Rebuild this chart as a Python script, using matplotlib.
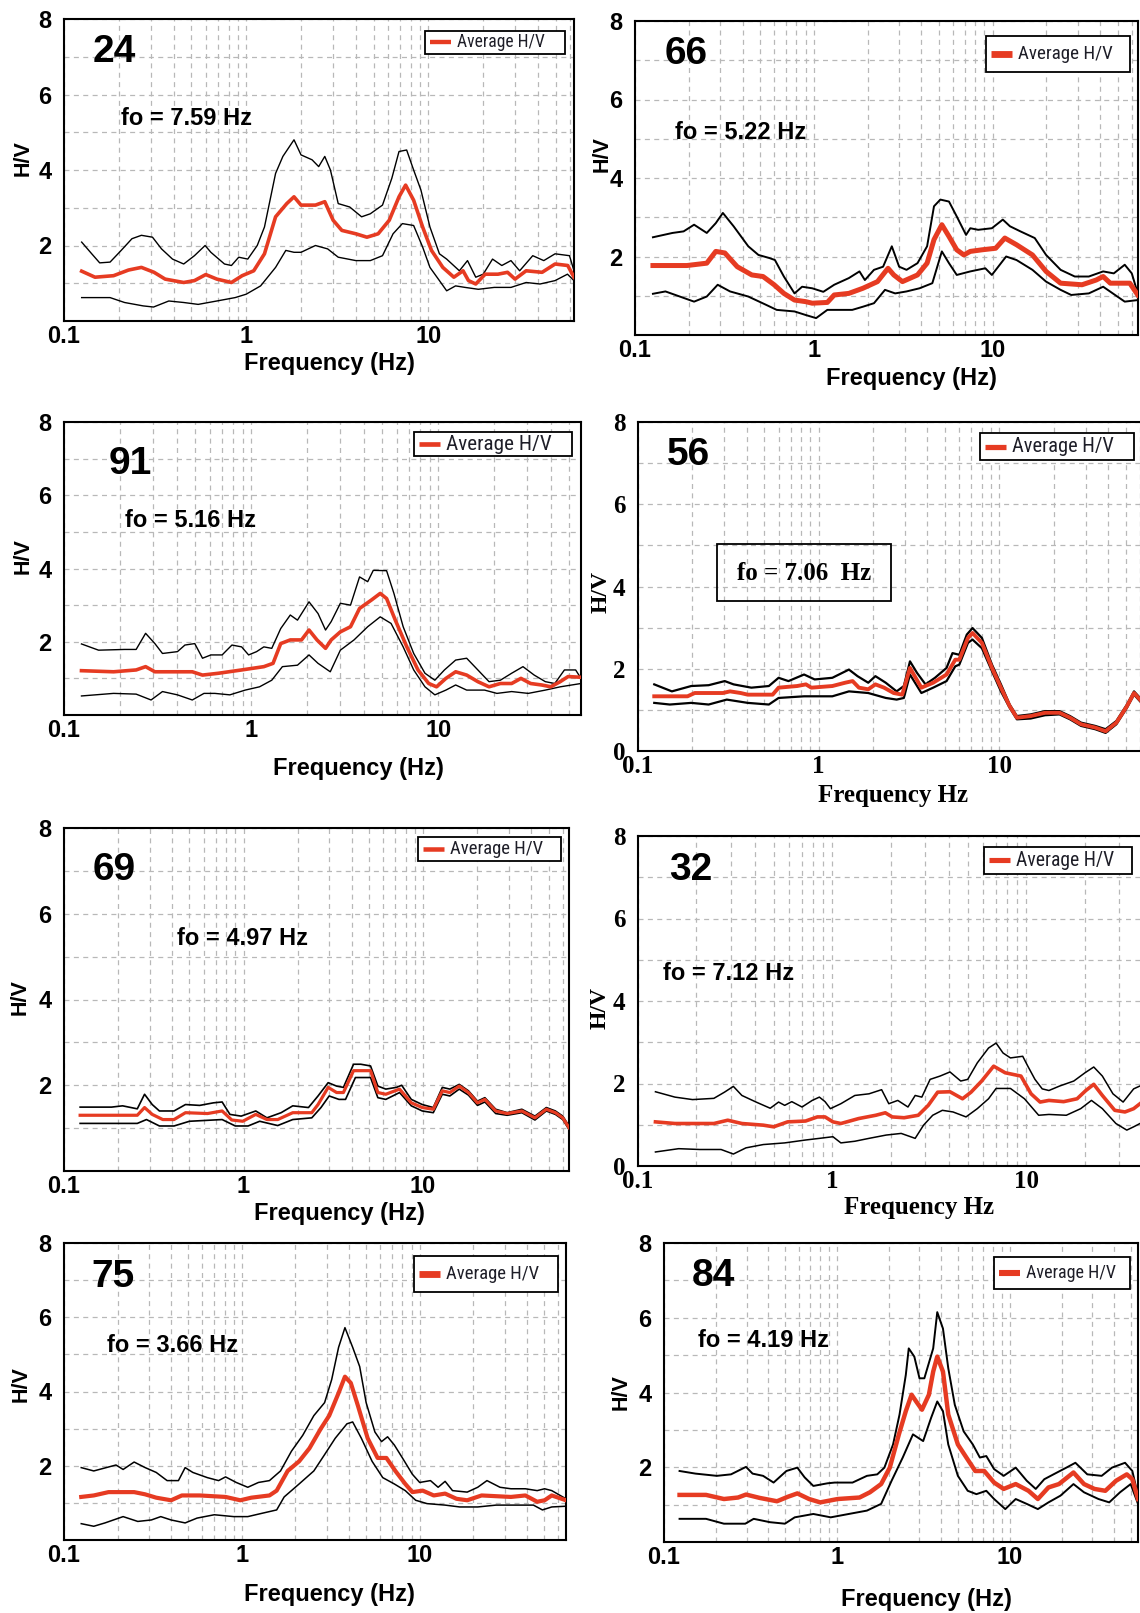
#!/usr/bin/env python3
# -*- coding: utf-8 -*-
"""
H/V spectral ratio curves for eight stations (mean +/- std)
"""

import numpy as np
import matplotlib
matplotlib.use('Agg')
from matplotlib import pyplot as plt
from matplotlib.lines import Line2D
from matplotlib.patches import Rectangle
from matplotlib.ticker import LogLocator, NullFormatter

#%% Data : (frequency in Hz, H/V) for upper, average and lower curves
P24_UP = [(0.125, 2.09), (0.142, 1.78), (0.157, 1.54), (0.179, 1.56), (0.206, 1.87), (0.236, 2.18),
          (0.266, 2.27), (0.306, 2.22), (0.343, 1.91), (0.394, 1.64), (0.454, 1.51), (0.52, 1.73),
          (0.595, 2.0), (0.64, 1.82), (0.76, 1.51), (0.83, 1.47), (0.91, 1.69), (1.02, 1.64),
          (1.15, 2.0), (1.26, 2.49), (1.45, 3.91), (1.59, 4.36), (1.83, 4.8), (2.0, 4.4),
          (2.3, 4.27), (2.5, 4.09), (2.7, 4.36), (2.9, 4.0), (3.2, 3.11), (3.7, 3.02),
          (4.3, 2.76), (4.8, 2.84), (5.6, 3.07), (6.3, 3.78), (6.9, 4.49), (7.6, 4.53),
          (8.3, 4.0), (9.1, 3.47), (10.2, 2.49), (11.5, 1.78), (12.6, 1.64), (14.8, 1.33),
          (16.4, 1.6), (18.2, 1.16), (20, 1.24), (22.5, 1.64), (25.3, 1.47), (28.4, 1.6),
          (31.7, 1.33), (37.4, 1.73), (43, 1.6), (49.6, 1.78), (59.5, 1.73), (63, 1.33)]
P24_AV = [(0.125, 1.32), (0.148, 1.16), (0.187, 1.2), (0.226, 1.35), (0.266, 1.42), (0.312, 1.29),
          (0.359, 1.11), (0.454, 1.02), (0.52, 1.07), (0.6, 1.23), (0.69, 1.11), (0.83, 1.02),
          (0.95, 1.2), (1.1, 1.33), (1.26, 1.78), (1.45, 2.76), (1.67, 3.11), (1.83, 3.29),
          (2.0, 3.07), (2.4, 3.07), (2.7, 3.16), (3.0, 2.67), (3.35, 2.4), (4.0, 2.31),
          (4.6, 2.22), (5.3, 2.31), (6.1, 2.67), (6.9, 3.29), (7.5, 3.6), (8.3, 3.2),
          (9.3, 2.49), (10.4, 1.87), (12.0, 1.42), (13.8, 1.16), (15.5, 1.33), (16.6, 1.07),
          (18.2, 0.98), (20.5, 1.24), (24.1, 1.24), (27.2, 1.29), (29.9, 1.11), (34.4, 1.33),
          (42.1, 1.29), (49.6, 1.51), (58.2, 1.47), (63, 1.16)]
P24_LO = [(0.125, 0.62), (0.179, 0.62), (0.215, 0.49), (0.272, 0.4), (0.31, 0.37), (0.376, 0.53),
          (0.454, 0.49), (0.545, 0.44), (0.69, 0.53), (0.87, 0.62), (1.0, 0.71), (1.2, 0.93),
          (1.45, 1.42), (1.65, 1.87), (1.83, 1.82), (2.0, 1.82), (2.4, 2.0), (2.8, 1.91),
          (3.2, 1.69), (4.0, 1.6), (4.8, 1.6), (5.6, 1.73), (6.4, 2.31), (7.2, 2.58),
          (8.3, 2.53), (9.3, 1.96), (10.2, 1.42), (11.5, 1.07), (12.6, 0.8), (14.1, 0.93),
          (15.9, 0.89), (18.8, 0.84), (23.0, 0.89), (28.4, 0.89), (34.4, 1.02), (41, 0.98),
          (49.6, 1.07), (58, 1.24), (63, 1.07)]

P66_UP = [(0.126, 2.49), (0.162, 2.6), (0.187, 2.64), (0.214, 2.81), (0.252, 2.6), (0.283, 2.85),
          (0.31, 3.11), (0.356, 2.77), (0.43, 2.26), (0.49, 2.04), (0.565, 1.96), (0.606, 1.91),
          (0.68, 1.49), (0.78, 1.06), (0.86, 1.23), (0.98, 1.19), (1.13, 1.1), (1.3, 1.28),
          (1.57, 1.45), (1.8, 1.62), (1.93, 1.4), (2.17, 1.66), (2.44, 1.74), (2.73, 2.26),
          (3.0, 1.74), (3.3, 1.66), (3.8, 1.83), (4.3, 2.26), (4.7, 3.28), (5.1, 3.45),
          (5.7, 3.4), (6.3, 3.02), (7.1, 2.55), (7.5, 2.72), (8.3, 2.68), (9.9, 2.72),
          (11.4, 2.94), (12.5, 2.77), (14.3, 2.64), (17.2, 2.47), (19.9, 2.04), (24.0, 1.66),
          (28.8, 1.49), (34.5, 1.49), (41.5, 1.62), (47.6, 1.57), (54.8, 1.79), (60, 1.57),
          (64.8, 1.06)]
P66_AV = [(0.126, 1.77), (0.195, 1.77), (0.252, 1.83), (0.283, 2.13), (0.318, 2.09), (0.373, 1.74),
          (0.45, 1.53), (0.52, 1.49), (0.6, 1.28), (0.68, 1.06), (0.78, 0.89), (0.9, 0.85),
          (0.98, 0.81), (1.19, 0.83), (1.3, 1.02), (1.57, 1.06), (1.88, 1.19), (2.27, 1.36),
          (2.6, 1.7), (2.8, 1.53), (3.13, 1.36), (3.8, 1.53), (4.3, 1.83), (4.7, 2.43),
          (5.2, 2.81), (5.7, 2.51), (6.3, 2.17), (6.9, 2.04), (7.5, 2.13), (8.7, 2.17),
          (10.4, 2.21), (11.7, 2.47), (13.6, 2.3), (16.7, 2.04), (19.9, 1.62), (24.0, 1.32),
          (31.6, 1.28), (37.9, 1.4), (41.5, 1.49), (45.5, 1.32), (58.5, 1.32), (64.8, 1.02)]
P66_LO = [(0.126, 1.05), (0.148, 1.11), (0.178, 0.98), (0.214, 0.85), (0.252, 0.98), (0.29, 1.28),
          (0.34, 1.11), (0.43, 0.98), (0.54, 0.77), (0.62, 0.64), (0.78, 0.6), (0.9, 0.51),
          (1.03, 0.43), (1.19, 0.64), (1.36, 0.64), (1.64, 0.64), (1.88, 0.72), (2.17, 0.81),
          (2.5, 1.15), (2.85, 1.06), (3.3, 1.11), (3.9, 1.19), (4.6, 1.32), (5.2, 2.13),
          (5.7, 1.83), (6.3, 1.53), (7.5, 1.62), (9.1, 1.7), (9.9, 1.53), (11.9, 2.0),
          (13.6, 1.91), (16.7, 1.66), (19.9, 1.36), (24.0, 1.15), (27.5, 1.02), (34.5, 1.06),
          (41.5, 1.23), (49.8, 0.98), (54.8, 0.85), (64.8, 0.89)]

P91_UP = [(0.124, 1.94), (0.153, 1.77), (0.211, 1.79), (0.243, 1.79), (0.273, 2.23), (0.306, 1.95),
          (0.336, 1.68), (0.404, 1.73), (0.443, 1.91), (0.5, 1.95), (0.55, 1.55), (0.61, 1.64),
          (0.7, 1.64), (0.79, 1.91), (0.89, 1.86), (0.97, 1.64), (1.07, 1.73), (1.17, 1.86),
          (1.29, 1.82), (1.44, 2.36), (1.62, 2.73), (1.77, 2.59), (2.04, 3.09), (2.28, 2.77),
          (2.5, 2.32), (2.68, 2.55), (3.0, 3.05), (3.4, 3.0), (3.8, 3.77), (4.2, 3.64),
          (4.5, 3.95), (5.3, 3.94), (5.8, 3.32), (6.5, 2.41), (7.4, 1.68), (8.5, 1.14),
          (9.6, 0.95), (10.8, 1.23), (12.4, 1.5), (14.2, 1.55), (16.3, 1.23), (18.7, 0.91),
          (21.5, 0.95), (24.7, 1.14), (28.4, 1.32), (32.6, 1.09), (37.4, 0.91), (42, 0.86),
          (47.3, 1.23), (54.3, 1.23), (58, 1.0)]
P91_AV = [(0.124, 1.21), (0.184, 1.18), (0.243, 1.23), (0.273, 1.32), (0.306, 1.18), (0.404, 1.18),
          (0.485, 1.18), (0.55, 1.09), (0.67, 1.14), (0.89, 1.23), (1.17, 1.32), (1.31, 1.41),
          (1.44, 1.95), (1.62, 2.05), (1.86, 2.05), (2.04, 2.32), (2.25, 2.05), (2.5, 1.82),
          (2.68, 2.05), (3.0, 2.27), (3.4, 2.41), (3.8, 2.91), (4.4, 3.14), (4.9, 3.32),
          (5.3, 3.18), (5.9, 2.59), (6.8, 1.86), (7.8, 1.23), (8.9, 0.86), (9.8, 0.77),
          (11.0, 1.0), (12.4, 1.18), (14.2, 1.09), (16.3, 0.91), (18.7, 0.77), (21.5, 0.86),
          (24.7, 0.86), (27.7, 1.0), (31.2, 0.86), (35.7, 0.82), (40, 0.77), (44.9, 0.91),
          (49.5, 1.05), (58, 1.03)]
P91_LO = [(0.124, 0.52), (0.184, 0.59), (0.243, 0.57), (0.292, 0.41), (0.336, 0.64), (0.404, 0.55),
          (0.485, 0.41), (0.56, 0.59), (0.64, 0.59), (0.77, 0.55), (0.93, 0.68), (1.11, 0.77),
          (1.29, 0.95), (1.47, 1.32), (1.77, 1.36), (2.04, 1.64), (2.28, 1.41), (2.65, 1.18),
          (3.0, 1.77), (3.55, 2.05), (4.2, 2.41), (4.9, 2.68), (5.6, 2.5), (6.5, 1.86),
          (7.4, 1.23), (8.5, 0.77), (9.6, 0.55), (11.0, 0.68), (12.4, 0.82), (14.2, 0.68),
          (17.7, 0.68), (20.6, 0.59), (24.7, 0.64), (30.3, 0.59), (37.4, 0.68), (45, 0.77),
          (58, 0.86)]

P56_UP = [(0.123, 1.62), (0.154, 1.45), (0.197, 1.58), (0.246, 1.6), (0.302, 1.7), (0.338, 1.62),
          (0.424, 1.54), (0.53, 1.58), (0.6, 1.78), (0.68, 1.7), (0.83, 1.86), (0.95, 1.74),
          (1.19, 1.78), (1.47, 1.98), (1.64, 1.82), (1.88, 1.66), (2.06, 1.82), (2.35, 1.66),
          (2.7, 1.45), (2.96, 1.58), (3.2, 2.18), (3.5, 1.9), (3.9, 1.62), (4.4, 1.78),
          (5.1, 2.02), (5.5, 2.38), (6.0, 2.34), (6.6, 2.83), (7.1, 2.99), (8.0, 2.75),
          (9.1, 2.1), (10.2, 1.62), (11.4, 1.13), (12.5, 0.85), (14.9, 0.89), (17.9, 0.97),
          (21.5, 0.97), (24.6, 0.85), (28.3, 0.69), (33.9, 0.61), (38.7, 0.53), (44.4, 0.73),
          (50.8, 1.13), (55.6, 1.45), (60, 1.29)]
P56_AV = [(0.123, 1.33), (0.188, 1.33), (0.206, 1.41), (0.295, 1.41), (0.323, 1.45), (0.37, 1.41),
          (0.405, 1.37), (0.556, 1.37), (0.6, 1.54), (0.76, 1.58), (0.85, 1.62), (0.91, 1.54),
          (1.19, 1.58), (1.4, 1.66), (1.54, 1.7), (1.67, 1.54), (1.88, 1.5), (2.06, 1.62),
          (2.3, 1.54), (2.6, 1.41), (2.9, 1.37), (3.2, 2.02), (3.7, 1.54), (4.3, 1.66),
          (5.1, 1.86), (5.7, 2.22), (6.0, 2.22), (6.7, 2.75), (7.1, 2.87), (8.0, 2.63),
          (9.1, 2.02), (10.2, 1.54), (11.4, 1.09), (12.5, 0.81), (14.9, 0.85), (17.9, 0.93),
          (21.5, 0.93), (24.6, 0.81), (28.3, 0.65), (33.9, 0.57), (38.7, 0.48), (44.4, 0.69),
          (50.8, 1.09), (55.6, 1.41), (60, 1.25)]
P56_LO = [(0.123, 1.17), (0.15, 1.13), (0.197, 1.17), (0.246, 1.13), (0.31, 1.25), (0.405, 1.17),
          (0.53, 1.13), (0.6, 1.29), (0.83, 1.33), (1.19, 1.33), (1.47, 1.45), (1.88, 1.41),
          (2.35, 1.29), (2.7, 1.25), (2.96, 1.29), (3.2, 1.86), (3.7, 1.41), (4.3, 1.54),
          (5.1, 1.7), (5.7, 2.06), (6.0, 2.1), (6.7, 2.63), (7.1, 2.71), (8.0, 2.5),
          (9.1, 1.94), (10.2, 1.45), (11.4, 1.05), (12.5, 0.77), (14.9, 0.79), (17.9, 0.87),
          (21.5, 0.89), (24.6, 0.77), (28.3, 0.61), (33.9, 0.53), (38.7, 0.44), (44.4, 0.65),
          (50.8, 1.05), (55.6, 1.37), (60, 1.21)]

P69_UP = [(0.123, 1.49), (0.184, 1.49), (0.212, 1.52), (0.256, 1.45), (0.281, 1.79), (0.31, 1.55),
          (0.34, 1.4), (0.41, 1.4), (0.475, 1.55), (0.57, 1.53), (0.68, 1.59), (0.76, 1.61),
          (0.84, 1.32), (0.97, 1.28), (1.17, 1.4), (1.35, 1.24), (1.62, 1.36), (1.88, 1.52),
          (2.3, 1.48), (2.6, 1.75), (2.96, 2.06), (3.3, 1.98), (3.6, 1.95), (4.1, 2.49),
          (4.5, 2.49), (5.1, 2.45), (5.6, 1.98), (6.2, 1.91), (7.1, 1.95), (7.6, 2.0),
          (8.6, 1.67), (9.9, 1.55), (11.4, 1.48), (12.8, 1.95), (14.1, 1.91), (15.9, 2.02),
          (17.9, 1.87), (20.1, 1.63), (22.1, 1.71), (25.4, 1.44), (29.4, 1.36), (35.5, 1.44),
          (42, 1.28), (48.6, 1.48), (54.6, 1.4), (60, 1.28), (65, 1.05)]
P69_AV = [(0.123, 1.3), (0.256, 1.3), (0.281, 1.48), (0.31, 1.32), (0.355, 1.2), (0.41, 1.2),
          (0.475, 1.36), (0.63, 1.34), (0.76, 1.4), (0.86, 1.19), (0.99, 1.16), (1.17, 1.32),
          (1.35, 1.2), (1.55, 1.2), (1.88, 1.36), (2.4, 1.36), (2.6, 1.55), (2.96, 1.95),
          (3.3, 1.83), (3.6, 1.83), (4.1, 2.34), (5.1, 2.34), (5.6, 1.83), (6.2, 1.79),
          (7.4, 1.91), (8.6, 1.59), (9.9, 1.48), (11.4, 1.44), (12.8, 1.87), (14.1, 1.83),
          (15.9, 1.98), (17.9, 1.83), (20.1, 1.59), (22.1, 1.67), (25.4, 1.4), (29.4, 1.34),
          (35.5, 1.4), (42, 1.24), (48.6, 1.44), (54.6, 1.36), (60, 1.24), (65, 1.01)]
P69_LO = [(0.123, 1.11), (0.256, 1.11), (0.288, 1.2), (0.34, 1.05), (0.41, 1.05), (0.5, 1.16),
          (0.76, 1.2), (0.9, 1.05), (1.06, 1.05), (1.23, 1.16), (1.55, 1.06), (1.88, 1.2),
          (2.4, 1.24), (2.7, 1.48), (3.0, 1.75), (3.4, 1.67), (3.7, 1.67), (4.2, 2.18),
          (5.1, 2.18), (5.6, 1.71), (6.2, 1.67), (7.4, 1.83), (8.6, 1.52), (9.9, 1.4),
          (11.4, 1.36), (12.8, 1.79), (14.1, 1.75), (15.9, 1.91), (17.9, 1.77), (20.1, 1.53),
          (22.1, 1.61), (25.4, 1.34), (29.4, 1.3), (35.5, 1.36), (42, 1.19), (48.6, 1.4),
          (54.6, 1.32), (60, 1.2), (65, 0.97)]

P32_UP = [(0.123, 1.8), (0.155, 1.67), (0.191, 1.61), (0.246, 1.64), (0.279, 1.79), (0.31, 1.93),
          (0.343, 1.71), (0.406, 1.55), (0.48, 1.4), (0.53, 1.55), (0.57, 1.47), (0.62, 1.56),
          (0.7, 1.43), (0.79, 1.59), (0.86, 1.67), (0.92, 1.56), (0.98, 1.39), (1.11, 1.51),
          (1.31, 1.71), (1.55, 1.75), (1.8, 1.85), (1.96, 1.51), (2.18, 1.59), (2.46, 1.43),
          (2.68, 1.71), (2.9, 1.67), (3.2, 2.1), (3.6, 2.18), (4.05, 2.28), (4.6, 2.06),
          (5.0, 2.1), (5.6, 2.5), (6.4, 2.86), (7.0, 2.98), (7.6, 2.74), (8.3, 2.62),
          (9.6, 2.66), (10.2, 2.42), (11.1, 2.1), (12.1, 1.87), (13.1, 1.83), (14.9, 1.94),
          (17.6, 2.06), (20.1, 2.26), (22.3, 2.4), (24.7, 2.18), (28, 1.75), (31.6, 1.55),
          (35.8, 1.87), (38.6, 1.94)]
P32_AV = [(0.123, 1.07), (0.155, 1.03), (0.246, 1.03), (0.29, 1.11), (0.343, 1.03), (0.442, 0.99),
          (0.5, 0.95), (0.59, 1.07), (0.73, 1.09), (0.84, 1.19), (0.92, 1.19), (1.01, 1.07),
          (1.11, 1.03), (1.37, 1.15), (1.68, 1.23), (1.88, 1.29), (2.04, 1.19), (2.35, 1.17),
          (2.78, 1.23), (3.13, 1.47), (3.5, 1.79), (4.05, 1.8), (4.7, 1.63), (5.2, 1.79),
          (5.9, 2.06), (6.8, 2.42), (7.8, 2.26), (9.4, 2.18), (10.6, 1.75), (11.8, 1.55),
          (13.1, 1.59), (15.6, 1.56), (18.3, 1.63), (20.3, 1.83), (22.3, 1.98), (24.7, 1.71),
          (28.6, 1.35), (32.3, 1.31), (35.8, 1.39), (38.6, 1.51)]
P32_LO = [(0.123, 0.34), (0.162, 0.42), (0.208, 0.4), (0.268, 0.4), (0.31, 0.29), (0.36, 0.44),
          (0.442, 0.52), (0.57, 0.56), (0.73, 0.63), (0.86, 0.67), (1.01, 0.71), (1.11, 0.56),
          (1.31, 0.6), (1.55, 0.67), (1.9, 0.75), (2.27, 0.79), (2.68, 0.67), (2.96, 0.99),
          (3.3, 1.23), (3.7, 1.35), (4.2, 1.31), (4.9, 1.19), (5.6, 1.39), (6.4, 1.63),
          (7.0, 1.88), (8.3, 1.88), (9.8, 1.63), (11.6, 1.23), (13.1, 1.25), (16.1, 1.23),
          (19.1, 1.39), (21.7, 1.59), (24.7, 1.39), (29, 1.03), (33, 0.87), (35.8, 0.95),
          (38.6, 1.03)]

P75_UP = [(0.125, 1.95), (0.147, 1.86), (0.196, 2.02), (0.215, 1.9), (0.248, 2.1), (0.286, 1.95),
          (0.33, 1.82), (0.38, 1.6), (0.44, 1.6), (0.48, 1.95), (0.53, 1.82), (0.64, 1.68),
          (0.74, 1.6), (0.81, 1.7), (0.93, 1.55), (1.08, 1.42), (1.24, 1.55), (1.43, 1.6),
          (1.65, 1.86), (1.9, 2.39), (2.2, 2.82), (2.54, 3.35), (2.92, 3.7), (3.2, 4.32),
          (3.5, 5.19), (3.8, 5.72), (4.2, 5.19), (4.6, 4.67), (5.0, 3.7), (5.6, 2.91),
          (6.1, 2.65), (6.6, 2.78), (7.2, 2.56), (8.0, 2.21), (9.1, 1.77), (10.0, 1.55),
          (11.5, 1.6), (12.7, 1.42), (13.9, 1.58), (15.3, 1.33), (18.5, 1.29), (21.2, 1.42),
          (23.9, 1.6), (28.3, 1.42), (32.6, 1.38), (39.3, 1.38), (45.8, 1.33), (50.4, 1.38),
          (55.3, 1.33), (66.5, 1.11)]
P75_AV = [(0.125, 1.16), (0.147, 1.2), (0.178, 1.29), (0.248, 1.29), (0.286, 1.23), (0.33, 1.14),
          (0.4, 1.07), (0.46, 1.2), (0.58, 1.2), (0.81, 1.16), (0.98, 1.07), (1.13, 1.14),
          (1.43, 1.2), (1.57, 1.33), (1.81, 1.86), (2.1, 2.12), (2.4, 2.47), (2.78, 3.0),
          (3.1, 3.35), (3.5, 3.96), (3.8, 4.4), (4.1, 4.23), (4.5, 3.61), (5.1, 2.74),
          (5.8, 2.21), (6.5, 2.21), (7.3, 1.86), (8.3, 1.51), (9.1, 1.29), (10.4, 1.33),
          (12.0, 1.2), (13.9, 1.25), (16.1, 1.11), (18.5, 1.07), (22.3, 1.2), (26.9, 1.18),
          (32.6, 1.16), (39.3, 1.2), (45.8, 1.03), (50.4, 1.07), (55.3, 1.2), (66.5, 1.07)]
P75_LO = [(0.125, 0.44), (0.147, 0.37), (0.17, 0.46), (0.215, 0.63), (0.26, 0.5), (0.31, 0.54),
          (0.35, 0.63), (0.4, 0.54), (0.48, 0.46), (0.56, 0.59), (0.7, 0.68), (0.9, 0.63),
          (1.08, 0.63), (1.3, 0.72), (1.57, 0.81), (1.73, 1.16), (2.1, 1.51), (2.54, 1.86),
          (2.92, 2.3), (3.35, 2.74), (3.9, 3.13), (4.2, 3.18), (4.7, 2.74), (5.4, 2.12),
          (6.2, 1.68), (7.2, 1.51), (8.3, 1.33), (9.5, 1.07), (11.0, 0.98), (13.9, 0.94),
          (16.8, 0.89), (21.2, 0.89), (26.9, 0.94), (35.8, 0.94), (43.6, 0.94), (49, 0.81),
          (55.3, 0.89), (66.5, 0.91)]

P84_UP = [(0.123, 1.9), (0.152, 1.83), (0.202, 1.77), (0.244, 1.81), (0.298, 2.01), (0.325, 1.83),
          (0.374, 1.77), (0.43, 1.59), (0.51, 1.9), (0.59, 1.99), (0.65, 1.73), (0.73, 1.5),
          (0.88, 1.57), (0.97, 1.59), (1.23, 1.59), (1.49, 1.77), (1.71, 1.81), (1.88, 1.99),
          (2.11, 2.61), (2.3, 3.41), (2.5, 4.47), (2.6, 5.18), (2.8, 4.96), (3.0, 4.38),
          (3.2, 4.38), (3.6, 5.18), (3.8, 6.15), (4.1, 5.71), (4.4, 4.65), (4.8, 3.67),
          (5.4, 2.96), (6.1, 2.61), (6.7, 2.26), (7.3, 2.3), (8.1, 1.95), (9.2, 1.77),
          (10.8, 1.99), (12.5, 1.64), (14.1, 1.42), (15.8, 1.68), (18.2, 1.83), (21.2, 1.99),
          (23.9, 2.12), (28.0, 1.81), (33.9, 1.77), (38.9, 1.99), (46.3, 2.12), (51, 1.9),
          (55, 1.24)]
P84_AV = [(0.123, 1.26), (0.175, 1.26), (0.222, 1.15), (0.268, 1.19), (0.298, 1.27), (0.357, 1.18),
          (0.45, 1.09), (0.52, 1.21), (0.59, 1.3), (0.69, 1.15), (0.8, 1.06), (1.01, 1.15),
          (1.35, 1.19), (1.55, 1.33), (1.8, 1.55), (2.02, 1.99), (2.28, 2.88), (2.5, 3.5),
          (2.7, 3.94), (2.87, 3.76), (3.1, 3.54), (3.4, 3.94), (3.6, 4.56), (3.8, 4.96),
          (4.1, 4.56), (4.4, 3.41), (5.0, 2.61), (5.6, 2.26), (6.3, 1.9), (7.1, 1.9),
          (8.1, 1.59), (9.2, 1.42), (10.8, 1.55), (12.8, 1.37), (14.5, 1.15), (16.7, 1.46),
          (19.2, 1.55), (23.3, 1.86), (26.8, 1.55), (30.8, 1.42), (35.6, 1.37), (41.1, 1.64),
          (47.4, 1.81), (51, 1.68), (55, 1.15)]
P84_LO = [(0.123, 0.62), (0.175, 0.62), (0.222, 0.49), (0.295, 0.49), (0.33, 0.62), (0.41, 0.53),
          (0.5, 0.49), (0.57, 0.66), (0.73, 0.75), (0.92, 0.66), (1.17, 0.75), (1.49, 0.84),
          (1.8, 1.02), (2.07, 1.64), (2.4, 2.26), (2.75, 2.88), (3.15, 2.7), (3.5, 3.32),
          (3.8, 3.76), (4.1, 3.5), (4.4, 2.61), (5.0, 1.77), (5.7, 1.37), (6.4, 1.28),
          (7.3, 1.37), (8.1, 1.15), (9.4, 0.88), (10.8, 1.15), (12.5, 1.02), (14.5, 0.88),
          (16.7, 1.06), (19.6, 1.24), (23.3, 1.55), (26.8, 1.33), (32.5, 1.15), (37.5, 1.06),
          (43.3, 1.33), (49.9, 1.55), (55, 1.02)]

STATIONS = ['24', '66', '91', '56', '69', '32', '75', '84']
F0_TEXT = ['fo = 7.59 Hz', 'fo = 5.22 Hz', 'fo = 5.16 Hz', 'fo = 7.06  Hz',
           'fo = 4.97 Hz', 'fo = 7.12 Hz', 'fo = 3.66 Hz', 'fo = 4.19 Hz']
UPPER = [P24_UP, P66_UP, P91_UP, P56_UP, P69_UP, P32_UP, P75_UP, P84_UP]
AVERAGE = [P24_AV, P66_AV, P91_AV, P56_AV, P69_AV, P32_AV, P75_AV, P84_AV]
LOWER = [P24_LO, P66_LO, P91_LO, P56_LO, P69_LO, P32_LO, P75_LO, P84_LO]
F_MAX = [63, 65, 58, 60, 65, 38.6, 66.5, 55]
XLABELS = ['Frequency (Hz)', 'Frequency (Hz)', 'Frequency (Hz)', 'Frequency Hz',
           'Frequency (Hz)', 'Frequency Hz', 'Frequency (Hz)', 'Frequency (Hz)']
KEY_LABEL = 'Average H/V'

#%% Layout (pixels : left, top, right, bottom) and styles
W_PX, H_PX = 1140, 1613
AX_BOX = [(64, 19, 574, 321), (635, 21, 1138, 335), (64, 422, 581, 715), (638, 422, 1140, 751),
          (64, 828, 569, 1171), (638, 836, 1140, 1166), (64, 1243, 566, 1540), (664, 1243, 1138, 1542)]
SERIF_AXES = [False, False, False, True, False, True, False, False]
ID_POS = [(0.056, 0.89), (0.058, 0.896), (0.086, 0.858), (0.058, 0.9),
          (0.056, 0.878), (0.062, 0.896), (0.055, 0.885), (0.059, 0.888)]
F0_POS = [(0.112, 0.672), (0.08, 0.644), (0.118, 0.665), (0.331, 0.54),
          (0.224, 0.678), (0.049, 0.584), (0.085, 0.655), (0.072, 0.673)]
YLAB_POS = [(-0.081, 0.538), (-0.066, 0.576), (-0.08, 0.543), (-0.074, 0.483),
            (-0.086, 0.507), (-0.076, 0.479), (-0.086, 0.525), (-0.09, 0.50)]
XLAB_POS = [(0.52, -0.142), (0.549, -0.137), (0.569, -0.184), (0.508, -0.134),
            (0.546, -0.124), (0.56, -0.127), (0.528, -0.185), (0.553, -0.192)]
# legend box: top-right corner (axes fraction), width/height and text width (px)
KEY_ANCHOR = [(0.983, 0.961), (0.984, 0.953), (0.982, 0.966), (0.989, 0.967),
              (0.984, 0.973), (0.984, 0.968), (0.985, 0.956), (0.983, 0.954)]
KEY_BOX = [(140, 23), (144, 36), (158, 24.5), (154, 27.5), (143, 23.7), (148, 27), (144, 36), (136, 32)]
KEY_TEXT_W = [87, 94, 105, 101, 92.5, 97.5, 92.5, 89]
RED_LW = [2.6, 3.6, 2.6, 2.8, 2.3, 2.6, 3.0, 3.2]
BLK_LW = [1.0, 1.4, 1.0, 1.6, 1.2, 1.1, 1.1, 1.4]

RED = '#e63b22'
GRID = '#b8b8b8'
SANS = ['Liberation Sans', 'DejaVu Sans']
SERIF = ['Liberation Serif', 'DejaVu Serif']
NARROW = ['Liberation Sans Narrow', 'Roboto Condensed', 'Open Sans Condensed',
          'Roboto', 'Liberation Sans']

#%% Figure
fig = plt.figure(figsize=(W_PX / 100, H_PX / 100), dpi=100)
renderer = fig.canvas.get_renderer()


def draw_key(ax, k, aw, ah):
    """Boxed 'Average H/V' key, sized in pixels."""
    bw, bh = KEY_BOX[k]
    x1, y1 = KEY_ANCHOR[k]
    x0, y0 = x1 - bw / aw, y1 - bh / ah
    ym = 0.5 * (y0 + y1)
    ax.add_patch(Rectangle((x0, y0), bw / aw, bh / ah, transform=ax.transAxes,
                           facecolor='white', edgecolor='black', lw=1.3,
                           zorder=7, clip_on=False))
    ax.add_line(Line2D([x0 + 5 / aw, x0 + 26 / aw], [ym, ym], transform=ax.transAxes,
                       color=RED, lw=bh * 0.19 * 0.72, solid_capstyle='butt',
                       zorder=8, clip_on=False))
    txt = ax.text(x0 + 32 / aw, ym, KEY_LABEL, transform=ax.transAxes,
                  ha='left', va='center', fontsize=10, color='#1e1e28',
                  fontfamily=NARROW, fontstretch='condensed', zorder=8)
    w10 = txt.get_window_extent(renderer).width
    txt.set_fontsize(10 * KEY_TEXT_W[k] / w10)


for k in range(len(STATIONS)):
    l, t, r, b = AX_BOX[k]
    aw, ah = r - l, b - t
    ax = fig.add_axes([l / W_PX, 1 - b / H_PX, aw / W_PX, ah / H_PX])

    f_up, v_up = np.array(UPPER[k]).T
    f_av, v_av = np.array(AVERAGE[k]).T
    f_lo, v_lo = np.array(LOWER[k]).T
    ax.plot(f_up, v_up, color='black', lw=BLK_LW[k], zorder=3)
    ax.plot(f_lo, v_lo, color='black', lw=BLK_LW[k], zorder=3)
    ax.plot(f_av, v_av, color=RED, lw=RED_LW[k], zorder=4)

    ax.set_xscale('log')
    ax.set_xlim(0.1, F_MAX[k])
    ax.set_ylim(0, 8)

    fam = SERIF if SERIF_AXES[k] else SANS
    tick_fs = 18 if SERIF_AXES[k] else 17
    ax.set_xticks([0.1, 1, 10], labels=['0.1', '1', '10'],
                  fontfamily=fam, fontweight='bold', fontsize=tick_fs)
    ax.xaxis.set_minor_locator(LogLocator(base=10, subs=np.arange(2, 10)))
    ax.xaxis.set_minor_formatter(NullFormatter())
    yt = [0, 2, 4, 6, 8] if SERIF_AXES[k] else [2, 4, 6, 8]
    ax.set_yticks(yt, labels=[str(y) for y in yt],
                  fontfamily=fam, fontweight='bold', fontsize=tick_fs)
    ax.set_yticks([1, 3, 5, 7], minor=True)
    ax.tick_params(which='both', length=0)
    ax.tick_params(axis='x', pad=3)
    ax.tick_params(axis='y', pad=9)

    ax.grid(which='both', color=GRID, lw=0.9, ls=(0, (4, 3.5)), zorder=1)
    ax.set_axisbelow(True)

    for sp in ax.spines.values():
        sp.set_linewidth(1.5)
        sp.set_color('black')
    if r >= W_PX:
        ax.spines['right'].set_visible(False)

    ax.set_xlabel(XLABELS[k], fontfamily=fam, fontweight='bold',
                  fontsize=18 if SERIF_AXES[k] else 17, va='center')
    ax.set_ylabel('H/V', fontfamily=fam, fontweight='bold',
                  fontsize=17 if SERIF_AXES[k] else 15.5, va='center')
    ax.xaxis.set_label_coords(*XLAB_POS[k])
    ax.yaxis.set_label_coords(*YLAB_POS[k])

    # station number and fundamental frequency
    ax.text(ID_POS[k][0], ID_POS[k][1], STATIONS[k], transform=ax.transAxes,
            ha='left', va='center', fontsize=28, fontweight='bold',
            fontfamily=SANS, zorder=6)
    if k == 3:
        ax.add_patch(Rectangle((0.158, 0.457), 0.346, 0.171, transform=ax.transAxes,
                               fill=False, edgecolor='black', lw=1.3, zorder=5))
        ax.text(F0_POS[k][0], F0_POS[k][1], F0_TEXT[k], transform=ax.transAxes,
                ha='center', va='center', fontsize=18, fontweight='bold',
                fontfamily=SERIF, zorder=6)
    else:
        ax.text(F0_POS[k][0], F0_POS[k][1], F0_TEXT[k], transform=ax.transAxes,
                ha='left', va='center', fontsize=17, fontweight='bold',
                fontfamily=SANS, zorder=6)

    draw_key(ax, k, aw, ah)

fig.savefig('out.png', dpi=100)
